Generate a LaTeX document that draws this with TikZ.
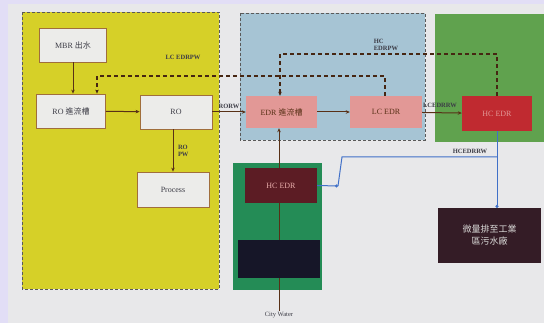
\documentclass[tikz,border=0pt]{standalone}
\usepackage{fontspec}
\setmainfont{Liberation Serif}
\newfontfamily\cjk{Noto Sans CJK TC}
\usetikzlibrary{arrows.meta}
\definecolor{bgc}{RGB}{232,232,234}
\definecolor{lav}{RGB}{226,222,246}
\definecolor{ylw}{RGB}{214,208,40}
\definecolor{lblue}{RGB}{166,196,212}
\definecolor{rgreen}{RGB}{96,162,78}
\definecolor{lgreen}{RGB}{36,140,86}
\definecolor{dred}{RGB}{92,28,36}
\definecolor{bred}{RGB}{192,42,48}
\definecolor{pinkb}{RGB}{226,152,150}
\definecolor{whb}{RGB}{236,236,234}
\definecolor{brd}{RGB}{160,110,60}
\definecolor{navy}{RGB}{22,22,40}
\definecolor{dbox}{RGB}{52,28,38}
\definecolor{brn}{RGB}{88,48,22}
\definecolor{bline}{RGB}{64,112,200}
\definecolor{txt}{RGB}{60,60,70}
\tikzset{
  region/.style={draw=gray!70!black, dash pattern=on 3pt off 2pt, line width=0.6pt},
  wbox/.style={draw=brd, fill=whb, line width=0.8pt, text=txt, font=\fontsize{8}{9}\selectfont},
  pbox/.style={fill=pinkb, text=brn, font=\fontsize{8}{9}\selectfont},
  flow/.style={draw=brn, line width=1pt, -{Stealth[length=4pt,width=3.5pt]}},
  plain/.style={draw=brn, line width=1pt},
  rflow/.style={draw=brn!80!black, line width=1.3pt, dash pattern=on 4pt off 3pt, -{Stealth[length=4pt,width=3.5pt]}},
  bline/.style={draw=bline, line width=1pt},
  dotend/.style={-{Circle[length=3pt]}},
  lbl/.style={font=\fontsize{6.5}{7}\selectfont\bfseries, text=txt, inner sep=0.5pt, align=left},
}
\begin{document}
\begin{tikzpicture}[x=1pt,y=-1pt]
\useasboundingbox (0,0) rectangle (544,323);
\fill[bgc] (0,0) rectangle (544,323);
\fill[lav] (0,0) rectangle (544,4);
\fill[lav] (0,0) rectangle (8,323);
% regions
\fill[ylw] (22,12) rectangle (219,289);
\draw[region] (22,12) rectangle (219,289);
\fill[lblue] (240,13) rectangle (425,140);
\draw[region] (240,13) rectangle (425,140);
\fill[rgreen] (435,14) rectangle (544,142);
\fill[lgreen] (233,163) rectangle (322,290);
% boxes
\node[wbox, minimum width=67pt, minimum height=34pt] (mbr) at (73,45) {MBR {\cjk 出水}};
\node[wbox, minimum width=69pt, minimum height=34pt] (rot) at (71,111) {RO {\cjk 進流槽}};
\node[wbox, minimum width=72pt, minimum height=34pt] (ro) at (176,112) {RO};
\node[wbox, minimum width=72pt, minimum height=35pt] (proc) at (173,189.5) {Process};
\node[pbox, minimum width=71pt, minimum height=32pt] (edrt) at (281.5,112) {EDR {\cjk 進流槽}};
\node[pbox, minimum width=72pt, minimum height=32pt] (lcedr) at (386,112) {LC EDR};
\node[fill=bred, text=pinkb, font=\fontsize{8}{9}\selectfont, minimum width=70pt, minimum height=35pt] (hcedr) at (497,113.5) {HC EDR};
\node[fill=dred, text=pinkb!80, font=\fontsize{8}{9}\selectfont, minimum width=72pt, minimum height=35pt] (hcedr2) at (281,185.5) {HC EDR};
\node[fill=navy, minimum width=82pt, minimum height=38pt] (navyb) at (279,259) {};
\node[fill=dbox, text=whb!85!gray, font=\cjk\fontsize{9}{12}\selectfont, align=center, minimum width=103pt, minimum height=55pt] (sew) at (489.5,235.5) {微量排至工業\\區污水廠};
\node[font=\fontsize{6.5}{7}\selectfont, text=txt, inner sep=1pt] (city) at (279,315) {City Water};
% solid flows
\draw[flow] (mbr.south) -- (mbr.south |- rot.north);
\draw[flow] (rot) -- (ro);
\draw[flow] (ro) -- (edrt) node[lbl, pos=0.5, above=2pt] {RORW};
\draw[flow] (edrt) -- (lcedr);
\draw[flow] (lcedr) -- (hcedr) node[lbl, pos=0.45, above=4pt] {LCEDRRW};
\draw[flow] (proc.north |- ro.south) -- (proc.north) node[lbl, pos=0.5, right=4pt] {RO\\PW};
\draw[plain] (city.north) -- (city.north |- navyb.south);
\draw[plain] (city.north |- navyb.north) -- (city.north |- hcedr2.south);
\draw[flow] (city.north |- hcedr2.north) -- (city.north |- edrt.south);
% recycle dashed
\coordinate (lcup) at (385,76);
\coordinate (lcl) at (97,76);
\draw[rflow] (lcedr.north -| lcup) -- (lcup) -- (lcl) -- (lcl |- rot.north);
\node[lbl] (lcpw) at (183,57) {LC EDRPW};
\coordinate (hcup) at (497,54);
\coordinate (hcl) at (280,54);
\draw[rflow] (hcedr.north) -- (hcup) -- (hcl) -- (hcl |- edrt.north);
\node[lbl] (hcpw) at (386,45) {HC\\EDRPW};
% blue flows
\coordinate (bj) at (497,157);
\coordinate (b1) at (338,186);
\coordinate (b2) at (342,157);
\draw[bline, dotend] (hcedr2.east) -- (b1);
\draw[bline] (b1) -- (b2) -- (bj);
\draw[bline, dotend] (hcedr.south) -- (bj |- sew.north);
\node[lbl, anchor=south] (hcrw) at (470,154) {HCEDRRW};
\end{tikzpicture}
\end{document}
